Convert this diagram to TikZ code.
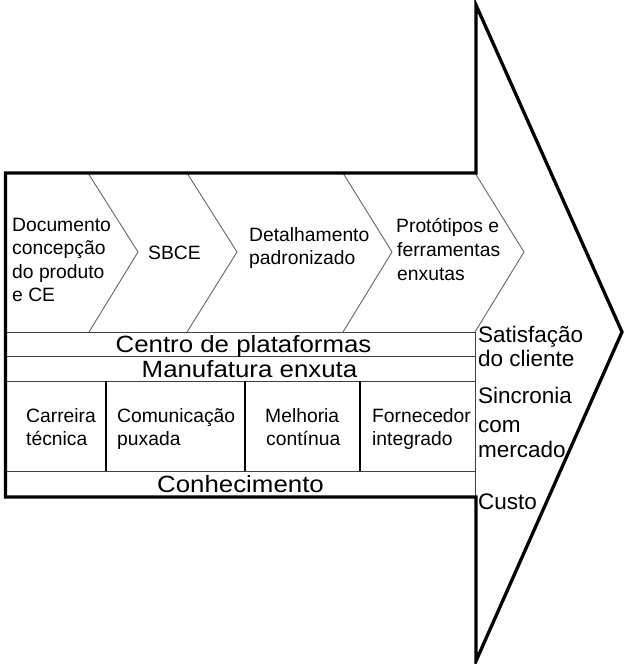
\documentclass[tikz,border=0pt]{standalone}
\usepackage{fontspec}
\setmainfont{Liberation Sans}
\newfontfamily\widefont[FakeStretch=1.1]{Liberation Sans}
\begin{document}
\begin{tikzpicture}[x=1pt,y=-1pt,
  outline/.style={draw=black, line width=3.3pt, line join=miter},
  chev/.style={draw=black!60, line width=0.9pt},
  rowline/.style={draw=black!75, line width=0.9pt},
  divline/.style={draw=black, line width=1.1pt},
  lbl/.style={anchor=base west, inner sep=0pt, font=\fontsize{19.3}{23}\selectfont},
  big/.style={anchor=base, inner sep=0pt, font=\widefont\fontsize{23.5}{26}\selectfont},
  side/.style={anchor=base west, inner sep=0pt, font=\fontsize{22.5}{25}\selectfont}]
\useasboundingbox (0,0) rectangle (624,664);
% outline corners
\coordinate (ht) at (476,5);
\coordinate (tip) at (622,332);
\coordinate (hb) at (476,661);
\coordinate (br) at (476,497);
\coordinate (bl) at (5.5,497);
\coordinate (tl) at (5.5,173);
\coordinate (tr) at (476,173);
% chevrons
\draw[chev] (88,173) -- (138,252) -- (89,332);
\draw[chev] (187,173) -- (237,252) -- (187,332);
\draw[chev] (343,173) -- (392,252) -- (343,332);
\draw[chev] (475,173) -- (524,252) -- (475,332);
% rows
\draw[rowline] (5.5,332) -- (475,332);
\draw[rowline] (5.5,356) -- (475,356);
\draw[rowline] (5.5,381) -- (475,381);
\draw[rowline] (5.5,471) -- (475,471);
\draw[rowline] (475,332) -- (475,497);
% dividers
\draw[divline] (106,381) -- (106,471);
\draw[divline] (245,381) -- (245,471);
\draw[divline] (360,381) -- (360,471);
% big arrow outline
\draw[outline] (ht) -- (tip) -- (hb) -- (br) -- (bl) -- (tl) -- (tr) -- cycle;
% chevron texts
\node[lbl] (d1) at (12,231) {Documento};
\node[lbl] (d2) at (12,254) {concepção};
\node[lbl] (d3) at (12,278) {do produto};
\node[lbl] (d4) at (12,301) {e CE};
\node[lbl] (s1) at (148,259) {SBCE};
\node[lbl] (p1) at (249,241) {Detalhamento};
\node[lbl] (p2) at (249,264) {padronizado};
\node[lbl] (f1) at (396,232) {Protótipos e};
\node[lbl] (f2) at (397,256) {ferramentas};
\node[lbl] (f3) at (397,280) {enxutas};
% rows text
\node[big] (cp) at (243.5,352.5) {Centro de plataformas};
\node[big] (me) at (249.5,377) {Manufatura enxuta};
\node[big] (co) at (240.5,492) {Conhecimento};
% bottom box texts
\node[lbl] (c1) at (26,422) {Carreira};
\node[lbl] (c2) at (26,445) {técnica};
\node[lbl] (m1) at (117,422) {Comunicação};
\node[lbl] (m2) at (117,445) {puxada};
\node[lbl] (h1) at (265,422) {Melhoria};
\node[lbl] (h2) at (266,445) {contínua};
\node[lbl] (g1) at (372,422) {Fornecedor};
\node[lbl] (g2) at (372,445) {integrado};
% side texts
\node[side] (r1) at (478,342) {Satisfação};
\node[side] (r2) at (478,366) {do cliente};
\node[side] (r3) at (478,403) {Sincronia};
\node[side] (r4) at (478,432) {com};
\node[side] (r5) at (478,457) {mercado};
\node[side] (r6) at (478,509) {Custo};
\end{tikzpicture}
\end{document}
